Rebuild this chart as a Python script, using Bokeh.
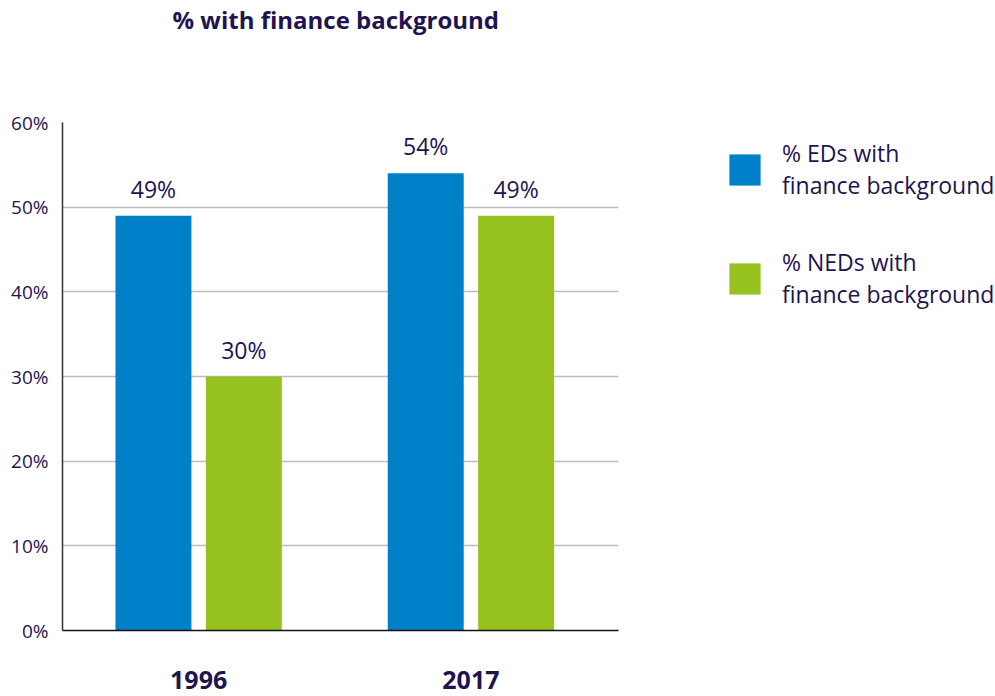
from bokeh.plotting import figure
from bokeh.models import ColumnDataSource, FixedTicker, Legend, LegendItem, Title
from bokeh.transform import dodge
from bokeh.core.properties import value
from bokeh.embed import file_html
from bokeh.resources import INLINE

# ---- data ----
years = ["1996", "2017"]
ed_pct = [49, 54]
ned_pct = [30, 49]
y_ticks = [0, 10, 20, 30, 40, 50, 60]
series_names = ["% EDs with\nfinance background", "% NEDs with\nfinance background"]
chart_title = "% with finance background"

NAVY = "#1e1450"
BLUE = "#0080c8"
GREEN = "#97c11f"
FONT = "Open Sans"

xs = list(range(len(years)))
src = ColumnDataSource(dict(
    x=xs,
    ed=ed_pct,
    ned=ned_pct,
    ed_lbl=[f"{v}%" for v in ed_pct],
    ned_lbl=[f"{v}%" for v in ned_pct],
))

p = figure(frame_width=556, frame_height=508, output_backend="svg", toolbar_location=None,
           x_range=(-0.5, 1.542), y_range=(0, 60),
           min_border_left=62, min_border_right=377, min_border_top=0,
           min_border_bottom=66, outline_line_color=None, title=None)

# spacer between frame and title (nearest the frame), then the title itself
p.add_layout(Title(text=" ", text_font_size="1px", standoff=84), "above")
p.add_layout(Title(text=chart_title, text_font=FONT, text_font_size="24px",
                   text_font_style="bold", text_color=NAVY, align="left",
                   offset=110, standoff=0), "above")

off = 0.166
w = 0.279
r1 = p.vbar(x=dodge("x", -off, range=p.x_range), top="ed", width=w, source=src,
            color=BLUE, line_color=None)
r2 = p.vbar(x=dodge("x", off, range=p.x_range), top="ned", width=w, source=src,
            color=GREEN, line_color=None)

for col, lbl, d in (("ed", "ed_lbl", -off), ("ned", "ned_lbl", off)):
    p.text(x=dodge("x", d, range=p.x_range), y=col, text=lbl, source=src,
           text_align="center", text_baseline="middle", y_offset=-27,
           text_font=value(FONT), text_font_size="23px", text_color=NAVY)

# axes
p.xaxis.ticker = FixedTicker(ticks=xs)
p.xaxis.major_label_overrides = {i: y for i, y in zip(xs, years)}
p.xaxis.major_label_text_font = FONT
p.xaxis.major_label_text_font_size = "25px"
p.xaxis.major_label_text_font_style = "bold"
p.xaxis.major_label_text_color = NAVY
p.xaxis.major_label_standoff = 34
p.xaxis.major_tick_line_color = None
p.xaxis.minor_tick_line_color = None
p.xaxis.axis_line_color = "#111111"
p.xaxis.axis_line_width = 1.5

p.yaxis.ticker = FixedTicker(ticks=y_ticks)
p.yaxis.major_label_overrides = {t: f"{t}%" for t in y_ticks}
p.yaxis.major_label_text_font = FONT
p.yaxis.major_label_text_font_size = "19px"
p.yaxis.major_label_text_color = NAVY
p.yaxis.major_label_standoff = 8
p.yaxis.major_tick_line_color = None
p.yaxis.minor_tick_line_color = None
p.yaxis.axis_line_color = "#333333"
p.yaxis.axis_line_width = 1.5

p.xgrid.grid_line_color = None
p.ygrid.ticker = FixedTicker(ticks=y_ticks)
p.ygrid.grid_line_color = "#bdbdbd"
p.ygrid.grid_line_width = 1.5

legend = Legend(items=[LegendItem(label=series_names[0], renderers=[r1]),
                       LegendItem(label=series_names[1], renderers=[r2])],
                location=(107, 320), padding=0, margin=0, spacing=45,
                glyph_width=39, glyph_height=39, label_standoff=18,
                label_text_font=FONT, label_text_font_size="23px",
                label_text_line_height=1.1,
                label_text_color=NAVY, border_line_color=None,
                background_fill_alpha=0)
p.add_layout(legend, "right")

open("out.html", "w").write(file_html(p, INLINE))
